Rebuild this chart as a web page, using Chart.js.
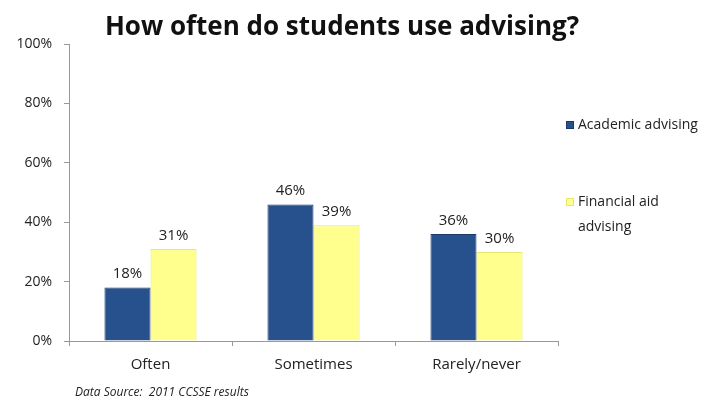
<!DOCTYPE html>
<html>
<head>
<meta charset="utf-8">
<script src="https://cdn.jsdelivr.net/npm/chart.js@4"></script>
<style>
  html, body { margin: 0; padding: 0; background: #fff; }
  #wrap { width: 715px; height: 402px; position: relative; }
</style>
</head>
<body>
<div id="wrap"><canvas id="advChart" width="715" height="402"></canvas></div>
<script>
// 利用頻度のカテゴリ
var categories = ["Often", "Sometimes", "Rarely/never"];
// 各系列の値(%)
var academic = [18, 46, 36];
var financial = [31, 39, 30];
// 縦軸の目盛
var yTicks = [0, 20, 40, 60, 80, 100];
var seriesNames = ["Academic advising", ["Financial aid", "advising"]];

var FONT = "'Open Sans', 'Liberation Sans', sans-serif";

// タイトル・凡例・値ラベル・出典を描くプラグイン
var decor = {
  id: 'decor',
  afterDatasetsDraw: function (chart) {
    var c = chart.ctx;
    c.save();
    // 値ラベル
    c.fillStyle = '#222';
    c.font = '15px ' + FONT;
    c.textAlign = 'center';
    c.textBaseline = 'bottom';
    chart.data.datasets.forEach(function (ds, i) {
      chart.getDatasetMeta(i).data.forEach(function (bar, j) {
        c.fillText(ds.data[j] + '%', bar.x, bar.y - 6);
      });
    });
    // タイトル
    c.font = 'bold 26px ' + FONT;
    c.fillStyle = '#111';
    c.textBaseline = 'middle';
    c.fillText('How often do students use advising?', 342, 28);
    // 凡例
    c.textAlign = 'left';
    c.font = '14px ' + FONT;
    var rows = [125, 202];
    chart.data.datasets.forEach(function (ds, i) {
      var y = rows[i];
      c.fillStyle = ds.backgroundColor;
      c.fillRect(566, y - 4, 8, 8);
      c.strokeStyle = ds.borderColor;
      c.lineWidth = 1;
      c.strokeRect(566.5, y - 3.5, 7, 7);
      c.fillStyle = '#222';
      var name = seriesNames[i];
      if (!Array.isArray(name)) name = [name];
      name.forEach(function (line, k) {
        c.fillText(line, 578, y + k * 25);
      });
    });
    // 出典
    c.font = 'italic 12px ' + FONT;
    c.fillStyle = '#222';
    c.fillText('Data Source:  2011 CCSSE results', 75, 393);
    c.restore();
  }
};

new Chart(document.getElementById('advChart'), {
  type: 'bar',
  data: {
    labels: categories,
    datasets: [
      {
        label: 'Academic advising',
        data: academic,
        backgroundColor: '#27518d',
        borderColor: '#1b3a68',
        borderWidth: 1
      },
      {
        label: 'Financial aid advising',
        data: financial,
        backgroundColor: '#ffff8e',
        borderColor: '#e6e670',
        borderWidth: 1
      }
    ]
  },
  options: {
    responsive: false,
    animation: false,
    events: [],
    layout: { padding: { top: 44, right: 157, bottom: 18, left: 0 } },
    datasets: {
      bar: { barPercentage: 1, categoryPercentage: 0.565 }
    },
    plugins: {
      legend: { display: false },
      tooltip: { enabled: false }
    },
    scales: {
      x: {
        grid: { drawOnChartArea: false, tickLength: 5, color: '#999' },
        border: { color: '#999' },
        ticks: { color: '#222', font: { family: FONT, size: 15 }, padding: 10 }
      },
      y: {
        min: 0,
        max: 100,
        afterFit: function (scale) { scale.width = 69; },
        afterBuildTicks: function (scale) {
          scale.ticks = yTicks.map(function (v) { return { value: v }; });
        },
        grid: { drawOnChartArea: false, tickLength: 5, color: '#999' },
        border: { color: '#999' },
        ticks: {
          color: '#222',
          font: { family: FONT, size: 14 },
          padding: 12,
          callback: function (v) { return v + '%'; }
        }
      }
    }
  },
  plugins: [decor]
});
</script>
</body>
</html>
